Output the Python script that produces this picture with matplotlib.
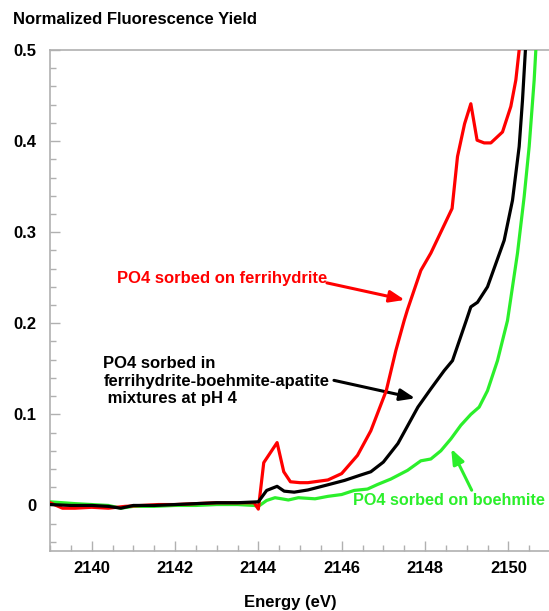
import matplotlib
matplotlib.use("Agg")
import matplotlib.pyplot as plt
from matplotlib.ticker import MultipleLocator

# ---- data ----
red_E = [2139.0, 2139.3, 2139.6, 2140.0, 2140.4, 2140.8, 2141.2, 2141.6, 2142.0, 2142.5,
         2143.0, 2143.5, 2143.9, 2144.0, 2144.13, 2144.45, 2144.61, 2144.77, 2145.0, 2145.19,
         2145.67, 2146.0, 2146.38, 2146.7, 2147.07, 2147.3, 2147.5, 2147.58, 2147.9, 2148.14,
         2148.65, 2148.78, 2148.95, 2149.1, 2149.25, 2149.42, 2149.58, 2149.86, 2150.06,
         2150.18, 2150.26]
red_Y = [0.003, -0.003, -0.003, -0.002, -0.003, -0.001, 0.000, 0.001, 0.001, 0.002,
         0.003, 0.003, 0.003, -0.004, 0.047, 0.069, 0.037, 0.026, 0.025, 0.025,
         0.028, 0.035, 0.055, 0.082, 0.126, 0.170, 0.203, 0.215, 0.258, 0.277,
         0.326, 0.383, 0.419, 0.441, 0.401, 0.398, 0.398, 0.410, 0.438,
         0.467, 0.500]

black_E = [2139.0, 2139.5, 2140.0, 2140.4, 2140.7, 2141.0, 2141.5, 2142.0, 2142.5, 2143.0,
           2143.5, 2144.0, 2144.2, 2144.45, 2144.62, 2144.86, 2145.19, 2145.67, 2146.07,
           2146.43, 2146.7, 2147.0, 2147.35, 2147.83, 2148.14, 2148.46, 2148.66, 2148.99,
           2149.1, 2149.26, 2149.5, 2149.9, 2150.1, 2150.26, 2150.34, 2150.41]
black_Y = [0.001, 0.000, 0.000, -0.001, -0.003, 0.000, 0.000, 0.001, 0.002, 0.003,
           0.003, 0.004, 0.0165, 0.021, 0.0157, 0.0146, 0.017, 0.0227, 0.0275,
           0.033, 0.037, 0.0476, 0.068, 0.108, 0.128, 0.148, 0.159, 0.203,
           0.218, 0.223, 0.240, 0.291, 0.335, 0.394, 0.445, 0.500]

green_E = [2139.0, 2139.3, 2139.6, 2140.0, 2140.4, 2140.7, 2141.0, 2141.5, 2142.0, 2142.5,
           2143.0, 2143.5, 2143.9, 2144.0, 2144.2, 2144.4, 2144.56, 2144.72, 2144.96, 2145.36,
           2145.67, 2146.0, 2146.3, 2146.62, 2146.86, 2147.18, 2147.58, 2147.9, 2148.14,
           2148.38, 2148.62, 2148.86, 2149.1, 2149.3, 2149.5, 2149.74, 2149.98, 2150.22,
           2150.38, 2150.5, 2150.62, 2150.66]
green_Y = [0.004, 0.003, 0.002, 0.001, 0.000, -0.003, -0.001, -0.001, 0.000, 0.000,
           0.001, 0.001, 0.000, -0.001, 0.0055, 0.0085, 0.0073, 0.006, 0.0085, 0.0073,
           0.010, 0.012, 0.0165, 0.018, 0.023, 0.029, 0.0385, 0.049, 0.051,
           0.060, 0.073, 0.088, 0.100, 0.108, 0.126, 0.159, 0.203, 0.277,
           0.339, 0.394, 0.467, 0.500]

x_ticks = [2140, 2142, 2144, 2146, 2148, 2150]
y_ticks = [0, 0.1, 0.2, 0.3, 0.4, 0.5]
y_tick_labels = ["0", "0.1", "0.2", "0.3", "0.4", "0.5"]

RED = "#ff0000"
GREEN = "#2bef2b"
GRAY = "#b0b0b0"
FONT = ["Liberation Sans", "DejaVu Sans"]

W, H = 549, 611
fig = plt.figure(figsize=(W / 100, H / 100), dpi=100)
ax = fig.add_axes([50 / W, (H - 551) / H, 500 / W, 501 / H])

ax.plot(green_E, green_Y, color=GREEN, lw=2.3, solid_joinstyle="round", zorder=3)
ax.plot(red_E, red_Y, color=RED, lw=2.3, solid_joinstyle="round", zorder=4)
ax.plot(black_E, black_Y, color="black", lw=2.3, solid_joinstyle="round", zorder=5)

ax.set_xlim(2139, 2151)
ax.set_ylim(-0.05, 0.5)

ax.set_xticks(x_ticks)
ax.set_xticklabels([str(t) for t in x_ticks])
ax.set_yticks(y_ticks)
ax.set_yticklabels(y_tick_labels)
ax.xaxis.set_minor_locator(MultipleLocator(0.5))
ax.yaxis.set_minor_locator(MultipleLocator(0.02))

ax.tick_params(axis="both", which="major", direction="in", color=GRAY, width=1,
               length=7, labelsize=12)
ax.tick_params(axis="both", which="minor", direction="in", color=GRAY, width=1, length=4)
ax.tick_params(axis="x", which="both", top=False, pad=7)
ax.tick_params(axis="y", which="both", right=False, pad=10)
for lab in ax.get_xticklabels() + ax.get_yticklabels():
    lab.set_fontweight("bold")
    lab.set_family(FONT)

for s in ["left", "top", "bottom"]:
    ax.spines[s].set_color(GRAY)
    ax.spines[s].set_linewidth(1.2)
ax.spines["right"].set_visible(False)

fig.text(13 / W, 1 - 20 / H, "Normalized Fluorescence Yield", ha="left", va="center",
         fontsize=12, fontweight="bold", family=FONT)
fig.text(290 / W, 1 - 603 / H, "Energy (eV)", ha="center", va="center",
         fontsize=12, fontweight="bold", family=FONT)

# annotations
ax.annotate("", xy=(2147.58, 0.225), xytext=(2145.58, 0.245),
            arrowprops=dict(arrowstyle="-|>,head_length=0.9,head_width=0.35",
                            color=RED, lw=2.2))
ax.text(2140.62, 0.2495, "PO4 sorbed on ferrihydrite", color=RED, fontsize=12,
        fontweight="bold", family=FONT, ha="left", va="center")

ax.annotate("", xy=(2147.83, 0.117), xytext=(2145.75, 0.138),
            arrowprops=dict(arrowstyle="-|>,head_length=0.9,head_width=0.35",
                            color="black", lw=2.2))
ax.text(2140.28, 0.1365, "PO4 sorbed in\nferrihydrite-boehmite-apatite\n mixtures at pH 4",
        color="black", fontsize=12, fontweight="bold", family=FONT, ha="left",
        va="center", linespacing=1.2)

ax.annotate("", xy=(2148.6, 0.065), xytext=(2149.15, 0.014),
            arrowprops=dict(arrowstyle="-|>,head_length=0.9,head_width=0.35",
                            color=GREEN, lw=2.2))
ax.text(2146.28, 0.0055, "PO4 sorbed on boehmite", color=GREEN, fontsize=11.7,
        fontweight="bold", family=FONT, ha="left", va="center", zorder=6)

fig.savefig("out.png", dpi=100)
